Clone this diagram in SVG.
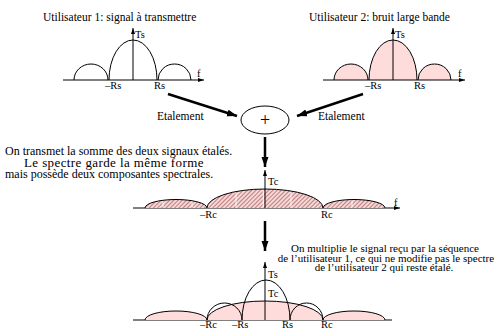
<svg xmlns="http://www.w3.org/2000/svg" width="498" height="328" viewBox="0 0 498 328">
  <style>
    text { font-family: "Liberation Serif", "Times New Roman", serif; fill: #000; }
    .t { font-size: 11.5px; }
    .t12 { font-size: 12px; }
    .lbl { font-size: 10.5px; }
    .note { font-size: 11px; }
    .big { font-size: 13px; letter-spacing: 0.4px; }
    .axis { stroke: #000; stroke-width: 1; fill: none; }
    .lobe { stroke: #000; stroke-width: 1; fill: none; }
    .pink { stroke: #000; stroke-width: 1; fill: #ffdcdc; }
    .hatch { stroke: #000; stroke-width: 1; fill: url(#hachures); }
    .thick { stroke: #000; stroke-width: 2.5; fill: none; }
    .cut { stroke: #fff; stroke-width: 0.9; }
  </style>
  <defs>
    <marker id="fleche" markerUnits="userSpaceOnUse" markerWidth="11" markerHeight="8" refX="10" refY="3.5" orient="auto">
      <path d="M0,0 L10,3.5 L0,7 z" fill="#000"/>
    </marker>
    <marker id="pointe" markerUnits="userSpaceOnUse" markerWidth="7" markerHeight="5" refX="6" refY="2" orient="auto">
      <path d="M0,0 L6,2 L0,4 z" fill="#000"/>
    </marker>
    <pattern id="hachures" patternUnits="userSpaceOnUse" width="3" height="3" patternTransform="rotate(45)">
      <rect width="3" height="3" fill="#f6d6d6"/>
      <line x1="0" y1="0" x2="0" y2="3" stroke="#8e3a3a" stroke-width="1.1"/>
    </pattern>
  </defs>

  <!-- user 1 spectrum -->
  <g id="spectre-u1">
    <text class="t" x="43" y="21">Utilisateur 1: signal à transmettre</text>
    <path class="lobe" d="M74,80 A17,16 0 0 1 108,80"/>
    <path class="lobe" d="M109,80 A24,40 0 0 1 157,80"/>
    <path class="lobe" d="M158,80 A16.5,16 0 0 1 191,80"/>
    <line class="axis" x1="63" y1="80" x2="204" y2="80" marker-end="url(#pointe)"/>
    <line class="axis" x1="133" y1="80" x2="133" y2="28" marker-end="url(#pointe)"/>
    <text class="lbl" x="135" y="38">Ts</text>
    <text class="lbl" x="197" y="77">f</text>
    <text class="lbl" x="105" y="89">–Rs</text>
    <text class="lbl" x="154" y="89">Rs</text>
  </g>

  <!-- user 2 spectrum (wide band noise) -->
  <g id="spectre-u2">
    <text class="t" x="309" y="21">Utilisateur 2: bruit large bande</text>
    <path class="pink" d="M334,80 A17,16 0 0 1 368,80"/>
    <path class="pink" d="M369,80 A24,40 0 0 1 417,80"/>
    <path class="pink" d="M418,80 A16.5,16 0 0 1 451,80"/>
    <line class="axis" x1="323" y1="80" x2="465" y2="80" marker-end="url(#pointe)"/>
    <line class="axis" x1="393" y1="80" x2="393" y2="28" marker-end="url(#pointe)"/>
    <text class="lbl" x="395" y="38">Ts</text>
    <text class="lbl" x="458" y="77">f</text>
    <text class="lbl" x="365" y="89">–Rs</text>
    <text class="lbl" x="414" y="89">Rs</text>
  </g>

  <!-- summing node -->
  <g id="sommateur">
    <ellipse cx="265" cy="120" rx="24" ry="14" fill="none" stroke="#000" stroke-width="1"/>
    <text x="265" y="126" font-size="18" text-anchor="middle">+</text>
  </g>

  <g id="etalement-gauche">
    <text class="t" x="157" y="120">Etalement</text>
  </g>
  <g id="etalement-droite">
    <text class="t" x="318" y="120">Etalement</text>
  </g>

  <!-- explanatory notes -->
  <g id="note-somme">
    <text class="t12" x="5" y="155">On transmet la somme des deux signaux étalés.</text>
    <text class="big" x="24" y="167">Le spectre garde la même forme</text>
    <text class="t12" x="5" y="178">mais possède deux composantes spectrales.</text>
  </g>
  <g id="note-multiplication">
    <text class="note" x="385" y="252" text-anchor="middle">On multiplie le signal reçu par la séquence</text>
    <text class="note" x="386" y="261.5" text-anchor="middle">de l’utilisateur 1, ce qui ne modifie pas le spectre</text>
    <text class="note" x="384" y="271" text-anchor="middle">de l’utilisateur 2 qui reste étalé.</text>
  </g>

  <!-- transmitted spectrum (sum of the spread signals) -->
  <g id="spectre-somme">
    <line class="axis" x1="133" y1="208" x2="400" y2="208" marker-end="url(#pointe)"/>
    <path class="hatch" d="M145,208 A31,8.5 0 0 1 207,208"/>
    <path class="hatch" d="M207,208 A58,19 0 0 1 323,208"/>
    <path class="hatch" d="M323,208 A31,8.5 0 0 1 385,208"/>
    <line class="cut" x1="163" y1="207.4" x2="163" y2="201.2"/>
    <line class="cut" x1="192" y1="207.4" x2="192" y2="201.6"/>
    <line class="cut" x1="236" y1="207.4" x2="236" y2="192.4"/>
    <line class="cut" x1="263.3" y1="207.4" x2="263.3" y2="190"/>
    <line class="cut" x1="291" y1="207.4" x2="291" y2="192"/>
    <line class="cut" x1="352" y1="207.4" x2="352" y2="200.4"/>
    <line class="axis" x1="265" y1="208" x2="265" y2="170" marker-end="url(#pointe)"/>
    <text class="lbl" x="268" y="185">Tc</text>
    <text class="lbl" x="394" y="206">f</text>
    <text class="lbl" x="200" y="218">–Rc</text>
    <text class="lbl" x="321" y="218">Rc</text>
  </g>

  <!-- despread spectrum -->
  <g id="spectre-recu">
    <line class="axis" x1="133" y1="320" x2="392" y2="320"/>
    <path class="pink" d="M145,320 A31,9 0 0 1 207,320"/>
    <path class="pink" d="M207,320 A58,19 0 0 1 323,320"/>
    <path class="pink" d="M323,320 A31,9 0 0 1 385,320"/>
    <path class="lobe" d="M207,320 A17.5,17 0 0 1 242,320"/>
    <path class="lobe" d="M242,320 A24,40 0 0 1 290,320"/>
    <path class="lobe" d="M290,320 A16.5,17 0 0 1 323,320"/>
    <line class="axis" x1="265" y1="320" x2="265" y2="262" marker-end="url(#pointe)"/>
    <text class="lbl" x="268" y="278">Ts</text>
    <text class="lbl" x="268" y="297">Tc</text>
    <text class="lbl" x="200" y="328">–Rc</text>
    <text class="lbl" x="232" y="328">–Rs</text>
    <text class="lbl" x="282" y="328">Rs</text>
    <text class="lbl" x="321" y="328">Rc</text>
  </g>

  <!-- connectors -->
  <g id="connecteurs">
    <line class="thick" x1="168" y1="94" x2="237" y2="116" marker-end="url(#fleche)"/>
    <line class="thick" x1="363" y1="94" x2="297" y2="116" marker-end="url(#fleche)"/>
    <line class="thick" x1="265" y1="137" x2="265" y2="167" marker-end="url(#fleche)"/>
    <line class="thick" x1="265" y1="221" x2="265" y2="251" marker-end="url(#fleche)"/>
  </g>
</svg>
